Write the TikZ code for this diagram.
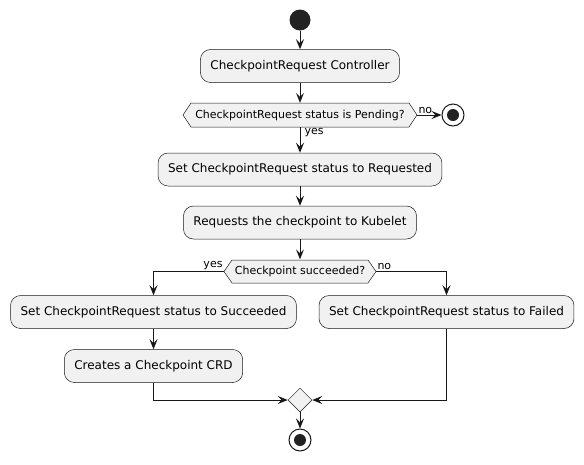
\documentclass[tikz,border=0pt]{standalone}
\usepackage{fontspec}
\setmainfont{DejaVu Sans}
\usepackage{tikz}
\usetikzlibrary{arrows.meta,shapes.geometric}

\definecolor{umlfill}{HTML}{F1F1F1}
\definecolor{umlline}{HTML}{181818}
\definecolor{umldot}{HTML}{222222}

\tikzset{
	act/.style={draw=umlline, fill=umlfill, line width=0.5pt, rounded corners=10pt, minimum height=33pt, inner xsep=10pt, font=\fontsize{12}{14}\selectfont},
	hexa/.style={draw=umlline, fill=umlfill, line width=0.5pt},
	dtext/.style={minimum height=24pt, inner sep=0pt, font=\fontsize{11}{13}\selectfont},
	lbl/.style={inner sep=1pt, font=\fontsize{11}{13}\selectfont},
	flow/.style={draw=umlline, line width=1pt, -{Stealth[length=10pt,width=8pt,inset=4pt]}},
	startdot/.style={circle, fill=umldot, minimum size=21pt, inner sep=0pt},
	stopdot/.style={circle, draw=umlline, fill=white, line width=1pt, minimum size=22pt, inner sep=0pt},
	joint/.style={diamond, draw=umlline, fill=umlfill, line width=0.5pt, minimum size=24pt, inner sep=0pt}
}

\begin{document}
\begin{tikzpicture}[x=1pt, y=-1pt]
	\useasboundingbox (0,0) rectangle (584,464);

	%start
	\node[startdot] (start) at (300,20) {};
	\node[act] (ctrl) at (300,66) {CheckpointRequest Controller};

	%pending?
	\draw[hexa] (183,115) -- (191,103) -- (409,103) -- (417,115) -- (409,127) -- (191,127) -- cycle;
	\node[dtext, minimum width=218pt] (pend) at (300,115) {CheckpointRequest status is Pending?};
	\coordinate (pendR) at (417,115);
	\node[stopdot] (stop1) at (453,115) {};
	\fill[umldot] (stop1) circle (6pt);

	%actions
	\node[act] (setreq) at (300,169.5) {Set CheckpointRequest status to Requested};
	\node[act] (kubelet) at (300,222.5) {Requests the checkpoint to Kubelet};

	%succeeded?
	\draw[hexa] (224,271.5) -- (232,260) -- (368,260) -- (376,271.5) -- (368,283) -- (232,283) -- cycle;
	\node[dtext, minimum width=136pt] (ok) at (300,271.5) {Checkpoint succeeded?};
	\coordinate (okL) at (224,271.5);
	\coordinate (okR) at (376,271.5);

	\node[act] (succ) at (153.5,312) {Set CheckpointRequest status to Succeeded};
	\node[act] (fail) at (446.5,312) {Set CheckpointRequest status to Failed};
	\node[act] (crd) at (153.5,366) {Creates a Checkpoint CRD};

	%merge and stop
	\node[joint] (join) at (300,400) {};
	\node[stopdot] (stop2) at (300,440) {};
	\fill[umldot] (stop2) circle (6pt);

	%flows
	\draw[flow] (start) -- (ctrl);
	\draw[flow] (ctrl) -- (pend);
	\draw[flow] (pendR) -- (stop1) node[lbl, pos=0, anchor=south west] {no};
	\draw[flow] (pend) -- (setreq) node[lbl, pos=0, anchor=north west, xshift=3pt] {yes};
	\draw[flow] (setreq) -- (kubelet);
	\draw[flow] (kubelet) -- (ok);
	\draw[flow] (okL) -| (succ) node[lbl, pos=0, anchor=south east] {yes};
	\draw[flow] (okR) -| (fail) node[lbl, pos=0, anchor=south west] {no};
	\draw[flow] (succ) -- (crd);
	\draw[flow] (crd) |- (join);
	\draw[flow] (fail) |- (join);
	\draw[flow] (join) -- (stop2);
\end{tikzpicture}
\end{document}
